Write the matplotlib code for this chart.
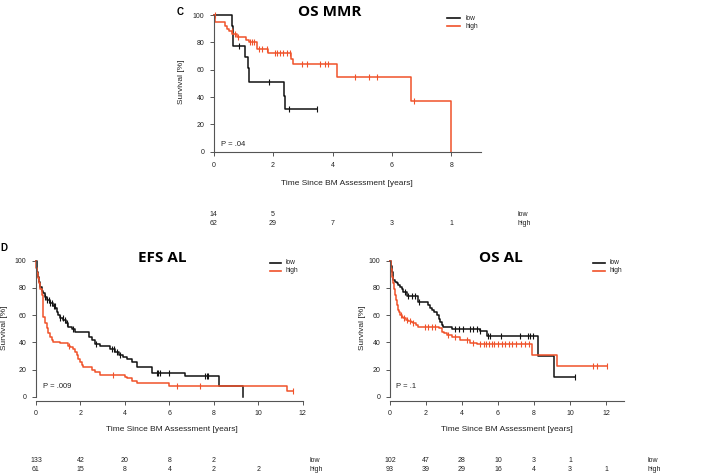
import numpy as np
import matplotlib.pyplot as plt
from matplotlib.lines import Line2D
from matplotlib.transforms import blended_transform_factory

plt.rcParams['font.family'] = ['Liberation Sans', 'DejaVu Sans']

W, H = 708, 474
BLACK = '#111111'
ORANGE = '#f0522a'
AXC = '#555555'
TXT = '#222222'

## OS MMR (panel C)
mmr_low_t = [0, 0.62, 0.66, 1.05, 1.14, 1.20, 2.36, 2.41]
mmr_low_s = [100, 92, 77, 69, 61, 51, 41, 31]
mmr_low_end = 3.47
mmr_low_cens = [0.85, 1.86, 2.54, 3.47]

mmr_high_t = [0, 0.06, 0.38, 0.45, 0.52, 0.62, 0.80, 1.10, 1.20, 1.45, 1.84, 2.60, 2.68, 4.14, 6.63, 8.0]
mmr_high_s = [100, 95, 92, 90, 88, 86, 84, 82, 80, 75, 72, 68, 64, 55, 37, 0]
mmr_high_end = 8.0
mmr_high_cens = [0.04, 0.6, 0.72, 0.83, 1.22, 1.3, 1.37, 1.54, 1.62, 1.78, 2.06, 2.12, 2.23,
                 2.35, 2.48, 2.57, 2.96, 3.13, 3.58, 3.75, 3.84, 4.76, 5.24, 5.49, 6.76]

mmr_risk_x = [0, 2, 4, 6, 8]
mmr_risk_low = ['14', '5', '', '', '']
mmr_risk_high = ['62', '29', '7', '3', '1']

## EFS AL (panel D left)
efs_low_t = [0, 0.03, 0.06, 0.10, 0.15, 0.20, 0.25, 0.32, 0.40, 0.50, 0.63, 0.75, 0.86, 0.95,
             1.0, 1.1, 1.23, 1.35, 1.45, 1.6, 1.75, 2.4, 2.5, 2.65, 2.88, 3.33, 3.55, 3.75,
             3.93, 4.1, 4.3, 4.53, 5.2, 6.7, 8.25, 9.33]
efs_low_s = [100, 96, 92, 88, 84, 81, 78, 76, 73.5, 71, 68.6, 67, 65, 62, 60, 58, 56.4, 54,
             51.5, 49.5, 47.5, 44, 41.7, 39, 37, 35, 33, 31, 29.4, 27.5, 25.7, 21.6, 17.6,
             15.2, 7.8, 0]
efs_low_end = 9.33
efs_low_cens = [0.42, 0.5, 0.6, 0.65, 0.7, 0.8, 0.85, 1.1, 1.2, 1.3, 1.4, 1.65, 2.7, 3.4,
                3.5, 3.65, 3.8, 5.45, 5.5, 5.58, 6.0, 7.6, 7.68, 7.75]

efs_high_t = [0, 0.02, 0.05, 0.1, 0.14, 0.2, 0.25, 0.3, 0.33, 0.4, 0.48, 0.55, 0.63, 0.7,
              0.78, 1.08, 1.45, 1.53, 1.68, 1.75, 1.83, 1.9, 1.98, 2.05, 2.13, 2.5, 2.65,
              2.88, 4.0, 4.08, 4.3, 4.53, 6.0, 11.3]
efs_high_s = [100, 95, 90.7, 87, 83.4, 79, 74.8, 66, 58.8, 54, 50.3, 47, 44.1, 42, 40.4,
              39.2, 37.5, 36.3, 34.8, 33, 30.7, 28, 25.7, 23.5, 22, 20, 18.4, 16, 14.5,
              13.5, 11.5, 9.8, 7.8, 3.9]
efs_high_end = 11.57
efs_high_cens = [1.5, 3.48, 6.36, 7.4, 11.57]

efs_risk_x = [0, 2, 4, 6, 8, 10]
efs_risk_low = ['133', '42', '20', '8', '2', '']
efs_risk_high = ['61', '15', '8', '4', '2', '2']

## OS AL (panel D right)
osal_low_t = [0, 0.04, 0.09, 0.14, 0.19, 0.28, 0.37, 0.46, 0.56, 0.65, 0.74, 0.93, 1.57,
              2.13, 2.22, 2.31, 2.45, 2.59, 2.7, 2.78, 2.87, 2.96, 3.43, 5.0, 5.4, 8.2, 9.12]
osal_low_s = [100, 96, 92, 88, 85.8, 84.6, 83.3, 82, 81, 79, 77.2, 74, 70, 67.4, 65.5,
              63.7, 62, 60, 57.5, 55, 53, 51.5, 49.7, 48.3, 44.8, 29.9, 14.5]
osal_low_end = 10.28
osal_low_cens = [0.83, 1.02, 1.2, 1.39, 1.6, 3.6, 3.85, 4.05, 4.45, 4.63, 4.81, 5.0, 5.46,
                 5.56, 6.15, 7.22, 7.69, 7.8, 7.93, 10.28]

osal_high_t = [0, 0.04, 0.09, 0.14, 0.19, 0.23, 0.28, 0.33, 0.37, 0.42, 0.46, 0.51, 0.56,
               0.65, 0.74, 0.88, 1.02, 1.15, 1.3, 1.45, 1.57, 2.7, 2.87, 3.0, 3.15, 3.43,
               3.89, 4.44, 4.81, 7.9, 9.28]
osal_high_s = [100, 94, 88.2, 86, 83.3, 79, 74.8, 71, 67.4, 65.5, 63.7, 62, 60, 58.5, 57.6,
               56.5, 55.9, 55, 54, 52.5, 51.5, 50.2, 47.8, 46.5, 45.4, 43.7, 41.7, 39.7,
               38.5, 31, 22.7]
osal_high_end = 12.04
osal_high_cens = [0.6, 0.8, 0.93, 1.11, 1.3, 1.94, 2.13, 2.31, 2.5, 3.2, 3.6, 4.3, 4.6, 5.0,
                  5.2, 5.35, 5.5, 5.65, 5.8, 6.0, 6.2, 6.4, 6.6, 6.8, 7.0, 7.3, 7.5, 7.7,
                  11.3, 11.48, 12.04]

osal_risk_x = [0, 2, 4, 6, 8, 10, 12]
osal_risk_low = ['102', '47', '28', '10', '3', '1', '']
osal_risk_high = ['93', '39', '29', '16', '4', '3', '1']


def fy(y):
    return 1 - y / H


def km(ax, t, s, end, cens, color):
    tt = list(t) + [end]
    ss = list(s) + [s[-1]]
    ax.step(tt, ss, where='post', color=color, lw=1.1, clip_on=False)
    idx = np.searchsorted(t, cens, side='right') - 1
    ax.plot(cens, np.array(s)[idx], ls='none', marker='|', ms=4.5, mew=0.8,
            color=color, clip_on=False)


def panel(x0, x1, xmax, y100, y0, ylo, xticks):
    # pixel geometry -> axes rect
    ppu = (y0 - y100) / 100.0
    bottom = y0 - ylo * ppu
    top = y100 - 4 * ppu
    ax = fig.add_axes([x0 / W, fy(bottom), (x1 - x0) / W, (bottom - top) / H])
    ax.set_xlim(0, xmax)
    ax.set_ylim(ylo, 104)
    for sp in ['top', 'right']:
        ax.spines[sp].set_visible(False)
    for sp in ['left', 'bottom']:
        ax.spines[sp].set_color(AXC)
        ax.spines[sp].set_linewidth(0.8)
    ax.spines['left'].set_bounds(0, 100)
    ax.spines['bottom'].set_bounds(0, xmax)
    ax.set_xticks(xticks)
    ax.set_yticks([0, 20, 40, 60, 80, 100])
    ax.tick_params(length=2.8, width=0.7, color=AXC, labelsize=5, labelcolor=TXT, pad=4)
    return ax


def risk(ax, xs, low, high, ylow, yhigh, lab_x):
    tr = blended_transform_factory(ax.transData, fig.transFigure)
    for x, a, b in zip(xs, low, high):
        ax.text(x, fy(ylow), a, transform=tr, ha='center', va='center', fontsize=5, color=TXT)
        ax.text(x, fy(yhigh), b, transform=tr, ha='center', va='center', fontsize=5, color=TXT)
    fig.text(lab_x / W, fy(ylow), 'low', ha='left', va='center', fontsize=5, color=TXT)
    fig.text(lab_x / W, fy(yhigh), 'high', ha='left', va='center', fontsize=5, color=TXT)


def legend(lx0, lx1, ly):
    for k, (lab, c) in enumerate([('low', BLACK), ('high', ORANGE)]):
        y = ly + k * 8
        fig.add_artist(Line2D([lx0 / W, lx1 / W], [fy(y), fy(y)], transform=fig.transFigure,
                              color=c, lw=1.2))
        fig.text((lx1 + 5) / W, fy(y), lab, ha='left', va='center', fontsize=4.8, color=TXT)


fig = plt.figure(figsize=(W / 100, H / 100), dpi=100)

# panel C: OS MMR
ax1 = panel(213.7, 481, 9, 15, 151.7, -0.5, [0, 2, 4, 6, 8])
km(ax1, mmr_low_t, mmr_low_s, mmr_low_end, mmr_low_cens, BLACK)
km(ax1, mmr_high_t, mmr_high_s, mmr_high_end, mmr_high_cens, ORANGE)
fig.text(221 / W, fy(144), 'P = .04', ha='left', va='center', fontsize=5.5, color=TXT)
fig.text(181.7 / W, fy(82), 'Survival [%]', rotation=90, ha='center', va='center',
         fontsize=6, color=TXT)
fig.text(347 / W, fy(183.3), 'Time Since BM Assessment [years]', ha='center', va='center',
         fontsize=6, color=TXT)
fig.text(330 / W, fy(12), 'OS MMR', ha='center', va='center', fontsize=11,
         fontweight='bold', family='Open Sans')
fig.text(180 / W, fy(11.7), 'C', ha='center', va='center', fontsize=7, fontweight='bold')
legend(447, 460, 18.3)
risk(ax1, mmr_risk_x, mmr_risk_low, mmr_risk_high, 214.7, 223.3, 518)

# panel D left: EFS AL
ax2 = panel(36, 302.7, 12, 260.7, 396.7, -3, [0, 2, 4, 6, 8, 10, 12])
km(ax2, efs_low_t, efs_low_s, efs_low_end, efs_low_cens, BLACK)
km(ax2, efs_high_t, efs_high_s, efs_high_end, efs_high_cens, ORANGE)
fig.text(43 / W, fy(387), 'P = .009', ha='left', va='center', fontsize=5.5, color=TXT)
fig.text(5 / W, fy(328), 'Survival [%]', rotation=90, ha='center', va='center',
         fontsize=6, color=TXT)
fig.text(172 / W, fy(429.5), 'Time Since BM Assessment [years]', ha='center', va='center',
         fontsize=6, color=TXT)
fig.text(162.5 / W, fy(257.5), 'EFS AL', ha='center', va='center', fontsize=11,
         fontweight='bold', family='Open Sans')
fig.text(3.5 / W, fy(248.3), 'D', ha='center', va='center', fontsize=7, fontweight='bold')
legend(270, 281, 263)
risk(ax2, efs_risk_x, efs_risk_low, efs_risk_high, 460.5, 469.5, 309)

# panel D right: OS AL
ax3 = panel(390, 624, 13, 260.7, 396.7, -3, [0, 2, 4, 6, 8, 10, 12])
km(ax3, osal_low_t, osal_low_s, osal_low_end, osal_low_cens, BLACK)
km(ax3, osal_high_t, osal_high_s, osal_high_end, osal_high_cens, ORANGE)
fig.text(396 / W, fy(387), 'P = .1', ha='left', va='center', fontsize=5.5, color=TXT)
fig.text(362 / W, fy(328), 'Survival [%]', rotation=90, ha='center', va='center',
         fontsize=6, color=TXT)
fig.text(507 / W, fy(429.5), 'Time Since BM Assessment [years]', ha='center', va='center',
         fontsize=6, color=TXT)
fig.text(501 / W, fy(257.5), 'OS AL', ha='center', va='center', fontsize=11,
         fontweight='bold', family='Open Sans')
legend(593, 605, 263)
risk(ax3, osal_risk_x, osal_risk_low, osal_risk_high, 460.5, 469.5, 648)

fig.savefig('out.png', dpi=100)
